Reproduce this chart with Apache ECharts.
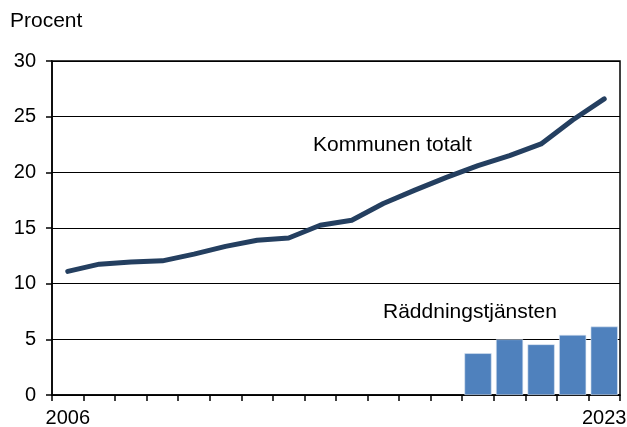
<!DOCTYPE html>
<html>
<head>
<meta charset="utf-8">
<script src="https://cdn.jsdelivr.net/npm/echarts@6/dist/echarts.min.js"></script>
<style>
html, body { margin: 0; padding: 0; background: #fff; }
#container { width: 627px; height: 427px; }
</style>
</head>
<body>
<div id="container"></div>
<script>
// år 2006-2023
var years = ['2006','2007','2008','2009','2010','2011','2012','2013','2014','2015',
	'2016','2017','2018','2019','2020','2021','2022','2023'];
// Kommunen totalt, procent
var kommunen = [11.1, 11.75, 11.95, 12.05, 12.65, 13.35, 13.9, 14.1, 15.25, 15.7,
	17.2, 18.4, 19.55, 20.6, 21.5, 22.55, 24.7, 26.6];
// Räddningstjänsten, procent (från 2019)
var raddning = [null, null, null, null, null, null, null, null, null, null,
	null, null, null, 3.75, 5.0, 4.55, 5.4, 6.15];
var yTicks = [0, 5, 10, 15, 20, 25, 30];

var font = 'Liberation Sans';
var chart = echarts.init(document.getElementById('container'));

function note(txt, x, y) {
	return {
		type: 'text', x: x, y: y,
		style: { text: txt, fontSize: 21, fontFamily: font, fill: '#000', textAlign: 'left', textVerticalAlign: 'middle' }
	};
}

var option = {
	animation: false,
	grid: {
		left: 52, right: 7, top: 61, bottom: 32,
		outerBoundsMode: 'none',
		show: true, borderColor: '#000', borderWidth: 1.5
	},
	xAxis: {
		type: 'category',
		data: years,
		boundaryGap: true,
		axisLine: { lineStyle: { color: '#000', width: 1.5 } },
		axisTick: { show: true, interval: 0, length: 6, lineStyle: { color: '#000', width: 1.5 } },
		axisLabel: {
			interval: 0,
			margin: 13,
			fontSize: 20,
			fontFamily: font,
			color: '#000',
			formatter: function (v, i) {
				return (i === 0 || i === years.length - 1) ? v : '';
			}
		},
		splitLine: { show: false }
	},
	yAxis: {
		type: 'value',
		min: yTicks[0],
		max: yTicks[yTicks.length - 1],
		interval: 5,
		axisLine: { show: true, lineStyle: { color: '#000', width: 1.5 } },
		axisTick: { show: true, length: 6, lineStyle: { color: '#000', width: 1.5 } },
		axisLabel: { margin: 16, fontSize: 20, fontFamily: font, color: '#000' },
		splitLine: { show: true, lineStyle: { color: '#000', width: 1.2 } }
	},
	graphic: [
		note('Procent', 10, 21),
		note('Kommunen totalt', 313, 145),
		note('Räddningstjänsten', 383, 312)
	],
	series: [
		{
			name: 'Räddningstjänsten',
			type: 'bar',
			data: raddning,
			barWidth: '86%',
			itemStyle: { color: '#4f81bd', borderColor: '#dce6f2', borderWidth: 0.6 },
			z: 2
		},
		{
			name: 'Kommunen totalt',
			type: 'line',
			data: kommunen,
			showSymbol: false,
			lineStyle: { color: '#243f60', width: 5, cap: 'round', join: 'round' },
			z: 3
		}
	]
};
chart.setOption(option);
window.addEventListener('resize', function () {
	chart.resize();
});
</script>
</body>
</html>
